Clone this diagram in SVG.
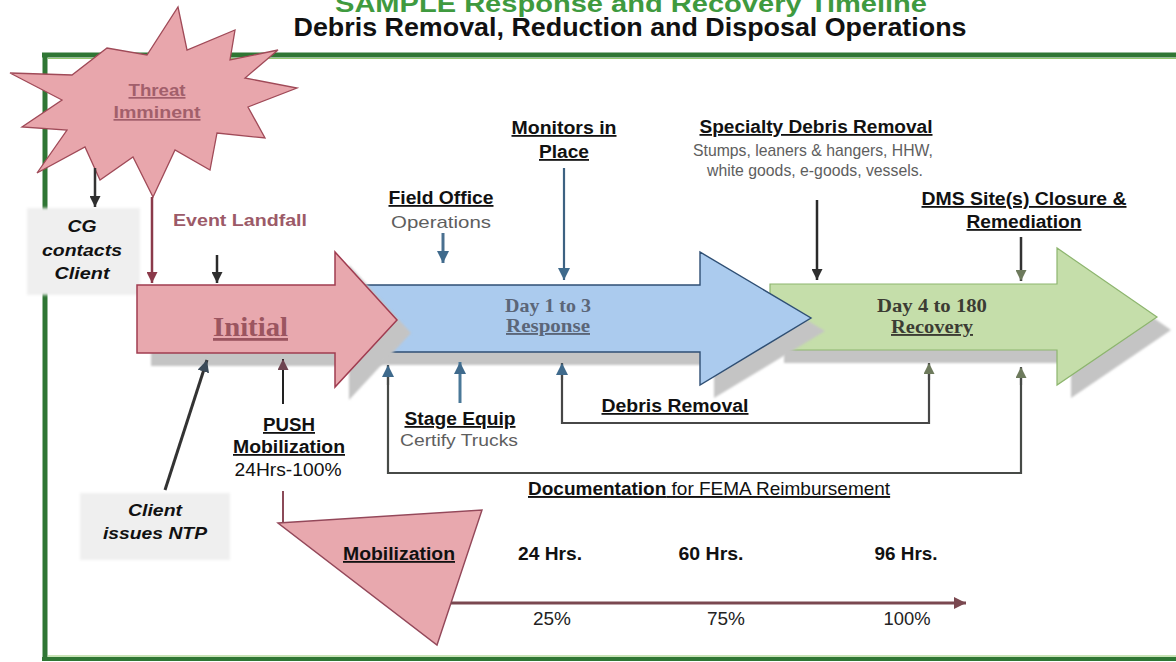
<svg xmlns="http://www.w3.org/2000/svg" width="1176" height="662" viewBox="0 0 1176 662">
<style>
  text { font-family: "Liberation Sans", Arial, sans-serif; }
  .b { font-weight: bold; }
  .u { text-decoration: underline; }
  .bi { font-weight: bold; font-style: italic; fill: #111; font-size: 17px; }
  .lbl { font-weight: bold; font-size: 18px; fill: #111; text-decoration: underline; }
  .sub { font-size: 17px; fill: #5e5e5e; }
  .serif { font-family: "Liberation Serif", "DejaVu Serif", serif; font-weight: bold; }
  .shadow { fill: #c4c4c4; }
  .ln { fill: none; stroke-linecap: butt; }
</style>
<defs>
  <filter id="soft" x="-10%" y="-10%" width="120%" height="120%"><feGaussianBlur stdDeviation="1.2"/></filter>
  <filter id="box" x="-10%" y="-10%" width="120%" height="120%"><feGaussianBlur stdDeviation="1.5"/></filter>
  <marker id="ahDark" viewBox="0 0 12 12" refX="12" refY="6" markerWidth="11" markerHeight="11" markerUnits="userSpaceOnUse" orient="auto"><path d="M0,0 L12,6 L0,12 z" fill="#2f2f2f"/></marker>
  <marker id="ahRed" viewBox="0 0 12 12" refX="12" refY="6" markerWidth="11" markerHeight="11" markerUnits="userSpaceOnUse" orient="auto"><path d="M0,0 L12,6 L0,12 z" fill="#8b3a4a"/></marker>
  <marker id="ahBlue" viewBox="0 0 12 12" refX="12" refY="6" markerWidth="12" markerHeight="13" markerUnits="userSpaceOnUse" orient="auto"><path d="M0,0 L12,6 L0,12 z" fill="#3f6a8c"/></marker>
  <marker id="ahOlive" viewBox="0 0 12 12" refX="12" refY="6" markerWidth="11" markerHeight="11" markerUnits="userSpaceOnUse" orient="auto"><path d="M0,0 L12,6 L0,12 z" fill="#6d7a5c"/></marker>
  <marker id="ahSlate" viewBox="0 0 12 12" refX="12" refY="6" markerWidth="12" markerHeight="12" markerUnits="userSpaceOnUse" orient="auto"><path d="M0,0 L12,6 L0,12 z" fill="#3b4a58"/></marker>
  <marker id="ahMauve" viewBox="0 0 12 12" refX="12" refY="6" markerWidth="11" markerHeight="11" markerUnits="userSpaceOnUse" orient="auto"><path d="M0,0 L12,6 L0,12 z" fill="#6e4450"/></marker>
  <marker id="ahBrown" viewBox="0 0 12 12" refX="12" refY="6" markerWidth="13" markerHeight="12" markerUnits="userSpaceOnUse" orient="auto"><path d="M0,0 L12,6 L0,12 z" fill="#7a4850"/></marker>
</defs>

<rect width="1176" height="662" fill="#ffffff"/>

<!-- frame -->
<g id="frame">
  <line x1="42" y1="55" x2="1176" y2="55" stroke="#2f7634" stroke-width="5"/>
  <line x1="48" y1="58.5" x2="1176" y2="58.5" stroke="#94c96f" stroke-width="1.2"/>
  <line x1="45" y1="53" x2="45" y2="661" stroke="#2f7634" stroke-width="5"/>
  <line x1="42" y1="659" x2="1176" y2="659" stroke="#2f7634" stroke-width="4"/>
  <line x1="48" y1="656" x2="1176" y2="656" stroke="#94c96f" stroke-width="1.2"/>
</g>

<!-- title -->
<g id="title">
  <text x="631" y="12" text-anchor="middle" class="b" font-size="24" fill="#3f9a3f" textLength="592" lengthAdjust="spacingAndGlyphs">SAMPLE Response and Recovery Timeline</text>
  <text x="630" y="36" text-anchor="middle" class="b" font-size="25" fill="#111" textLength="673" lengthAdjust="spacingAndGlyphs">Debris Removal, Reduction and Disposal Operations</text>
</g>

<!-- starburst -->
<g id="node-threat">
  <polygon points="178,7 187,50 235,30 230,60 278,50 245,78 297,88 248,107 265,138 217,133 210,170 175,150 153,197 133,157 100,180 85,147 37,173 67,130 22,127 62,100 10,73 72,75 107,48 147,55" fill="#e8a6ac" stroke="#a04a58" stroke-width="1.3" stroke-linejoin="miter"/>
  <text x="157" y="96" text-anchor="middle" class="b u" font-size="17" fill="#a25f6b" textLength="57" lengthAdjust="spacingAndGlyphs">Threat</text>
  <text x="157" y="118" text-anchor="middle" class="b u" font-size="17" fill="#a25f6b" textLength="87" lengthAdjust="spacingAndGlyphs">Imminent</text>
</g>

<!-- CG contacts Client -->
<g id="node-cg">
  <rect x="27" y="208" width="113" height="87" fill="#efefef" filter="url(#box)"/>
  <text x="82" y="232" text-anchor="middle" class="bi" textLength="29" lengthAdjust="spacingAndGlyphs">CG</text>
  <text x="82" y="256" text-anchor="middle" class="bi" textLength="80" lengthAdjust="spacingAndGlyphs">contacts</text>
  <text x="82" y="279" text-anchor="middle" class="bi" textLength="55" lengthAdjust="spacingAndGlyphs">Client</text>
</g>

<!-- Client issues NTP -->
<g id="node-ntp">
  <rect x="80" y="493" width="150" height="67" fill="#efefef" filter="url(#box)"/>
  <text x="155" y="516" text-anchor="middle" class="bi" textLength="54" lengthAdjust="spacingAndGlyphs">Client</text>
  <text x="155" y="539" text-anchor="middle" class="bi" textLength="104" lengthAdjust="spacingAndGlyphs">issues NTP</text>
</g>

<!-- Recovery (green) arrow -->
<g id="node-recovery">
  <path class="shadow" filter="url(#soft)" transform="translate(14,13)" d="M770,284 L1057,284 L1057,248 L1157,317 L1057,385 L1057,350 L770,350 Z"/>
  <path d="M770,284 L1057,284 L1057,248 L1157,317 L1057,385 L1057,350 L770,350 Z" fill="#c5deaa" stroke="#8db56e" stroke-width="1.2"/>
  <text x="932" y="312" text-anchor="middle" class="serif" font-size="19" fill="#3c3c34" textLength="110" lengthAdjust="spacingAndGlyphs">Day 4 to 180</text>
  <text x="932" y="333" text-anchor="middle" class="serif u" font-size="19" fill="#3c3c34" textLength="82" lengthAdjust="spacingAndGlyphs">Recovery</text>
</g>

<!-- Response (blue) arrow -->
<g id="node-response">
  <path class="shadow" filter="url(#soft)" transform="translate(14,13)" d="M360,285 L700,285 L700,252 L811,318 L700,385 L700,352 L360,352 Z"/>
  <path d="M360,285 L700,285 L700,252 L811,318 L700,385 L700,352 L360,352 Z" fill="#abcbee" stroke="#2f4f74" stroke-width="1.4"/>
  <text x="548" y="312" text-anchor="middle" class="serif" font-size="19" fill="#5b6678" textLength="86" lengthAdjust="spacingAndGlyphs">Day 1 to 3</text>
  <text x="548" y="332" text-anchor="middle" class="serif u" font-size="19" fill="#5b6678" textLength="84" lengthAdjust="spacingAndGlyphs">Response</text>
</g>

<!-- Initial (pink) arrow -->
<g id="node-initial">
  <path class="shadow" filter="url(#soft)" transform="translate(14,13)" d="M137,285 L335,285 L335,252 L397,320 L335,387 L335,353 L137,353 Z"/>
  <path d="M137,285 L335,285 L335,252 L397,320 L335,387 L335,353 L137,353 Z" fill="#e8a8ae" stroke="#a03c50" stroke-width="1.5"/>
  <text x="250.5" y="336" text-anchor="middle" class="serif u" font-size="28" fill="#9b5560" textLength="75" lengthAdjust="spacingAndGlyphs">Initial</text>
</g>

<!-- Mobilization triangle -->
<g id="node-mobilization">
  <polygon points="278,523 482,510 437,645" fill="#e8a8ae" stroke="#94485a" stroke-width="1.4"/>
  <text x="399" y="560" text-anchor="middle" class="lbl" textLength="112" lengthAdjust="spacingAndGlyphs">Mobilization</text>
</g>

<!-- connectors -->
<g id="connectors">
  <line class="ln" x1="95" y1="168" x2="95" y2="207" stroke="#333" stroke-width="2.5" marker-end="url(#ahDark)"/>
  <line class="ln" x1="152" y1="197" x2="152" y2="283" stroke="#8b3a4a" stroke-width="2.5" marker-end="url(#ahRed)"/>
  <line class="ln" x1="217" y1="255" x2="217" y2="283" stroke="#2a2a2a" stroke-width="2.5" marker-end="url(#ahDark)"/>
  <line class="ln" x1="443" y1="233" x2="443" y2="263" stroke="#4a7090" stroke-width="3" marker-end="url(#ahBlue)"/>
  <line class="ln" x1="564" y1="168" x2="564" y2="280" stroke="#3d6282" stroke-width="2.2" marker-end="url(#ahBlue)"/>
  <line class="ln" x1="817" y1="200" x2="817" y2="280" stroke="#2a2a2a" stroke-width="2.5" marker-end="url(#ahDark)"/>
  <line class="ln" x1="1021" y1="237" x2="1021" y2="281" stroke="#333" stroke-width="2.5" marker-end="url(#ahOlive)"/>
  <line class="ln" x1="165" y1="490" x2="207" y2="360" stroke="#333" stroke-width="3" marker-end="url(#ahSlate)"/>
  <line class="ln" x1="283" y1="404" x2="283" y2="359" stroke="#222" stroke-width="2" marker-end="url(#ahMauve)"/>
  <line class="ln" x1="460" y1="403" x2="460" y2="362" stroke="#4a7898" stroke-width="3" marker-end="url(#ahBlue)"/>
  <polyline class="ln" points="562,364 562,423 929,423 929,364" stroke="#474747" stroke-width="2.2"/>
  <line class="ln" x1="562" y1="380" x2="562" y2="363" stroke="#474747" stroke-width="2.2" marker-end="url(#ahBlue)"/>
  <line class="ln" x1="929" y1="380" x2="929" y2="363" stroke="#474747" stroke-width="2.2" marker-end="url(#ahOlive)"/>
  <polyline class="ln" points="388,366 388,473 1021,473 1021,368" stroke="#474a47" stroke-width="2.2"/>
  <line class="ln" x1="388" y1="385" x2="388" y2="365" stroke="#474a47" stroke-width="2.2" marker-end="url(#ahBlue)"/>
  <line class="ln" x1="1021" y1="385" x2="1021" y2="367" stroke="#474a47" stroke-width="2.2" marker-end="url(#ahOlive)"/>
  <line class="ln" x1="283" y1="491" x2="283" y2="523" stroke="#8b4a58" stroke-width="2"/>
  <line class="ln" x1="451" y1="603" x2="966" y2="603" stroke="#7a4850" stroke-width="3" marker-end="url(#ahBrown)"/>
</g>

<!-- labels -->
<g id="node-event-landfall">
  <text x="240" y="226" text-anchor="middle" class="b" font-size="17" fill="#9c5a68" textLength="134" lengthAdjust="spacingAndGlyphs">Event Landfall</text>
</g>
<g id="node-field-office">
  <text x="441" y="204" text-anchor="middle" class="lbl" textLength="105" lengthAdjust="spacingAndGlyphs">Field Office</text>
  <text x="441" y="228" text-anchor="middle" class="sub" font-size="18" textLength="100" lengthAdjust="spacingAndGlyphs">Operations</text>
</g>
<g id="node-monitors">
  <text x="564" y="134" text-anchor="middle" class="lbl" textLength="105" lengthAdjust="spacingAndGlyphs">Monitors in</text>
  <text x="564" y="158" text-anchor="middle" class="lbl" textLength="50" lengthAdjust="spacingAndGlyphs">Place</text>
</g>
<g id="node-specialty">
  <text x="816" y="133" text-anchor="middle" class="lbl" textLength="233" lengthAdjust="spacingAndGlyphs">Specialty Debris Removal</text>
  <text x="813" y="156" text-anchor="middle" class="sub" font-size="16" fill="#666" textLength="240" lengthAdjust="spacingAndGlyphs">Stumps, leaners &amp; hangers, HHW,</text>
  <text x="815" y="176" text-anchor="middle" class="sub" font-size="16" fill="#666" textLength="216" lengthAdjust="spacingAndGlyphs">white goods, e-goods, vessels.</text>
</g>
<g id="node-dms">
  <text x="1024" y="205" text-anchor="middle" class="lbl" textLength="205" lengthAdjust="spacingAndGlyphs">DMS Site(s) Closure &amp;</text>
  <text x="1024" y="228" text-anchor="middle" class="lbl" textLength="115" lengthAdjust="spacingAndGlyphs">Remediation</text>
</g>
<g id="node-push">
  <text x="289" y="431" text-anchor="middle" class="lbl" textLength="52" lengthAdjust="spacingAndGlyphs">PUSH</text>
  <text x="289" y="453" text-anchor="middle" class="lbl" textLength="112" lengthAdjust="spacingAndGlyphs">Mobilization</text>
  <text x="288" y="476" text-anchor="middle" font-size="18" fill="#111" textLength="107" lengthAdjust="spacingAndGlyphs">24Hrs-100%</text>
</g>
<g id="node-stage">
  <text x="460" y="425" text-anchor="middle" class="lbl" textLength="111" lengthAdjust="spacingAndGlyphs">Stage Equip</text>
  <text x="459" y="446" text-anchor="middle" class="sub" textLength="118" lengthAdjust="spacingAndGlyphs">Certify Trucks</text>
</g>
<g id="node-debris-removal">
  <text x="675" y="412" text-anchor="middle" class="lbl" textLength="147" lengthAdjust="spacingAndGlyphs">Debris Removal</text>
</g>
<g id="node-documentation">
  <text x="528" y="495" font-size="19" fill="#111" class="u"><tspan font-weight="bold">Documentation</tspan> for FEMA Reimbursement</text>
</g>
<g id="node-timeline">
  <text x="550" y="560" text-anchor="middle" class="b" font-size="18" fill="#111" textLength="64" lengthAdjust="spacingAndGlyphs">24 Hrs.</text>
  <text x="711" y="560" text-anchor="middle" class="b" font-size="18" fill="#111" textLength="65" lengthAdjust="spacingAndGlyphs">60 Hrs.</text>
  <text x="906" y="560" text-anchor="middle" class="b" font-size="18" fill="#111" textLength="63" lengthAdjust="spacingAndGlyphs">96 Hrs.</text>
  <text x="552" y="625" text-anchor="middle" font-size="18" fill="#222" textLength="38" lengthAdjust="spacingAndGlyphs">25%</text>
  <text x="726" y="625" text-anchor="middle" font-size="18" fill="#222" textLength="38" lengthAdjust="spacingAndGlyphs">75%</text>
  <text x="907" y="625" text-anchor="middle" font-size="18" fill="#222" textLength="47" lengthAdjust="spacingAndGlyphs">100%</text>
</g>
</svg>
